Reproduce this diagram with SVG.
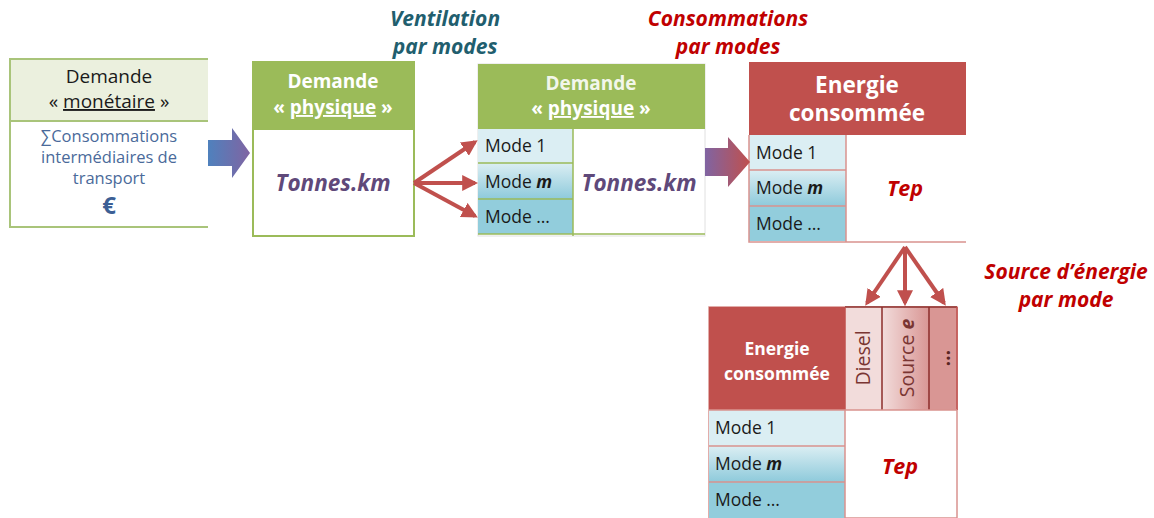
<svg xmlns="http://www.w3.org/2000/svg" width="1154" height="518" viewBox="0 0 1154 518">
<defs>
<linearGradient id="gBP" x1="0" y1="0" x2="1" y2="0"><stop offset="0" stop-color="#4f81bd"/><stop offset="1" stop-color="#8064a2"/></linearGradient>
<linearGradient id="gPR" x1="0" y1="0" x2="1" y2="0"><stop offset="0" stop-color="#8064a2"/><stop offset="1" stop-color="#c0504d"/></linearGradient>
<linearGradient id="gMode" x1="0" y1="0" x2="0" y2="1"><stop offset="0" stop-color="#dbeef3"/><stop offset="1" stop-color="#8ecadb"/></linearGradient>
<linearGradient id="gSrc" x1="0" y1="0" x2="1" y2="0"><stop offset="0" stop-color="#f2dcdb"/><stop offset="1" stop-color="#d99694"/></linearGradient>
<marker id="ah" viewBox="0 0 10 10" refX="8" refY="5" markerWidth="4" markerHeight="4" orient="auto" markerUnits="strokeWidth"><path d="M0,0 L10,5 L0,10 z" fill="#c0504d"/></marker>
<style>
text{font-family:"Open Sans","Liberation Sans",sans-serif;}
.hw{fill:#ffffff;font-weight:bold;text-anchor:middle;}
.mode{fill:#1a1a1a;font-size:17.5px;}
.tk{fill:#5f497a;font-weight:bold;font-style:italic;font-size:22.5px;text-anchor:middle;}
.tep{fill:#c00000;font-weight:bold;font-style:italic;font-size:21.5px;text-anchor:middle;}
.lbl{font-weight:bold;font-style:italic;font-size:21px;text-anchor:middle;}
.conn{stroke:#c0504d;stroke-width:4;fill:none;marker-end:url(#ah);}
</style>
</defs>
<rect width="1154" height="518" fill="#ffffff"/>

<g id="labels">
<text class="lbl" x="445" y="26" fill="#215e6e">Ventilation</text>
<text class="lbl" x="445" y="54" fill="#215e6e">par modes</text>
<text class="lbl" x="728" y="26" fill="#c00000">Consommations</text>
<text class="lbl" x="728" y="54" fill="#c00000">par modes</text>
<text class="lbl" x="1066" y="279" fill="#c00000">Source d’énergie</text>
<text class="lbl" x="1066" y="307" fill="#c00000">par mode</text>
</g>

<g id="node-monetaire">
<rect x="10" y="59" width="198" height="62" fill="#ebf0de"/>
<rect x="10" y="121" width="198" height="106" fill="#ffffff"/>
<path d="M208,59 H10 V227 H208 M10,121 H208" stroke="#a9c47a" stroke-width="2" fill="none"/>
<text x="109" y="83" text-anchor="middle" font-size="19" fill="#1a1a1a">Demande</text>
<text x="109" y="108" text-anchor="middle" font-size="19" fill="#1a1a1a">« <tspan text-decoration="underline">monétaire</tspan> »</text>
<text x="109" y="142" text-anchor="middle" font-size="16.5" fill="#4a6a9a">∑Consommations</text>
<text x="109" y="163" text-anchor="middle" font-size="16.5" fill="#4a6a9a">intermédiaires de</text>
<text x="109" y="184" text-anchor="middle" font-size="16.5" fill="#4a6a9a">transport</text>
<text x="109" y="214" text-anchor="middle" font-size="24" font-weight="bold" fill="#3c5f95">€</text>
</g>

<g id="node-physique1">
<rect x="253" y="62" width="161" height="174" fill="#ffffff" stroke="#9bbb59" stroke-width="2"/>
<rect x="252" y="61" width="163" height="69" fill="#9bbb59"/>
<text class="hw" x="333" y="88" font-size="19">Demande</text>
<text class="hw" x="333" y="114" font-size="19">« <tspan text-decoration="underline">physique</tspan> »</text>
<text class="tk" x="333" y="191">Tonnes.km</text>
</g>

<g id="node-physique2">
<rect x="478" y="64" width="227" height="172" fill="#ffffff" stroke="#e0e0e0" stroke-width="1"/>
<rect x="478" y="64" width="227" height="65" fill="#9bbb59"/>
<rect x="478" y="129" width="95" height="34" fill="#dbeef3"/>
<rect x="478" y="163" width="95" height="36" fill="url(#gMode)"/>
<rect x="478" y="199" width="95" height="35" fill="#92cddc"/>
<path d="M478,163 H573 M478,199 H573 M573,129 V236 M478,234 H705" stroke="#9bbb59" stroke-width="1.5" fill="none"/>
<text class="hw" x="591" y="90" font-size="19" fill-opacity="0.9">Demande</text>
<text class="hw" x="591" y="115" font-size="19">« <tspan text-decoration="underline">physique</tspan> »</text>
<text class="mode" x="485" y="152">Mode 1</text>
<text class="mode" x="485" y="188">Mode <tspan font-weight="bold" font-style="italic">m</tspan></text>
<text class="mode" x="485" y="223">Mode …</text>
<text class="tk" x="639" y="191">Tonnes.km</text>
</g>

<g id="node-energie1">
<rect x="749" y="135" width="217" height="107" fill="#ffffff"/>
<rect x="749" y="62" width="217" height="73" fill="#c0504d"/>
<rect x="749" y="135" width="97" height="35" fill="#dbeef3"/>
<rect x="749" y="170" width="97" height="36" fill="url(#gMode)"/>
<rect x="749" y="206" width="97" height="35" fill="#92cddc"/>
<path d="M749,135 V242 H966 M749,170 H846 M749,206 H846 M846,135 V242" stroke="#d9928f" stroke-width="1.5" fill="none"/>
<text class="hw" x="857" y="93" font-size="22.5">Energie</text>
<text class="hw" x="857" y="121" font-size="22.5">consommée</text>
<text class="mode" x="756" y="159">Mode 1</text>
<text class="mode" x="756" y="194">Mode <tspan font-weight="bold" font-style="italic">m</tspan></text>
<text class="mode" x="756" y="230">Mode …</text>
<text class="tep" x="905" y="196">Tep</text>
</g>

<g id="node-energie2">
<rect x="709" y="307" width="248" height="211" fill="#ffffff" stroke="#d9928f" stroke-width="1.5"/>
<rect x="709" y="307" width="136" height="103" fill="#c0504d"/>
<rect x="845" y="307" width="37" height="103" fill="#f2dcdb"/>
<rect x="882" y="307" width="47" height="103" fill="url(#gSrc)"/>
<rect x="929" y="307" width="28" height="103" fill="#d99694"/>
<path d="M845,307 H957 M882,307 V410 M929,307 V410" stroke="#8c2e2b" stroke-width="1.5" fill="none"/>
<path d="M845,307 V410 M957,307 V410" stroke="#c0504d" stroke-width="1.5" fill="none"/>
<rect x="709" y="410" width="136" height="36" fill="#dbeef3"/>
<rect x="709" y="446" width="136" height="36" fill="url(#gMode)"/>
<rect x="709" y="482" width="136" height="36" fill="#92cddc"/>
<path d="M709,410 H957 M709,446 H845 M709,482 H845 M845,410 V518" stroke="#d9928f" stroke-width="1.5" fill="none"/>
<text class="hw" x="777" y="355" font-size="17.5">Energie</text>
<text class="hw" x="777" y="380" font-size="17.5">consommée</text>
<text transform="translate(870,358) rotate(-90)" text-anchor="middle" font-size="19.5" fill="#7a3532">Diesel</text>
<text transform="translate(914,358) rotate(-90)" text-anchor="middle" font-size="19.5" fill="#7a3532">Source <tspan font-weight="bold" font-style="italic">e</tspan></text>
<text transform="translate(950,358) rotate(-90)" text-anchor="middle" font-size="19" font-weight="bold" fill="#5a2523">…</text>
<text class="mode" x="715" y="434">Mode 1</text>
<text class="mode" x="715" y="470">Mode <tspan font-weight="bold" font-style="italic">m</tspan></text>
<text class="mode" x="715" y="506">Mode …</text>
<text class="tep" x="900" y="474">Tep</text>
</g>

<g id="connectors">
<path d="M208,140 H232 V128 L250,153 L232,178 V166 H208 Z" fill="url(#gBP)"/>
<path d="M705,148 H728 V137 L750,162 L728,187 V176 H705 Z" fill="url(#gPR)"/>
<line class="conn" x1="414" y1="183" x2="475" y2="142"/>
<line class="conn" x1="414" y1="183" x2="475" y2="183"/>
<line class="conn" x1="414" y1="183" x2="475" y2="216"/>
<line class="conn" x1="905" y1="247" x2="867" y2="303"/>
<line class="conn" x1="905" y1="247" x2="905" y2="303"/>
<line class="conn" x1="905" y1="247" x2="944" y2="303"/>
</g>
</svg>
